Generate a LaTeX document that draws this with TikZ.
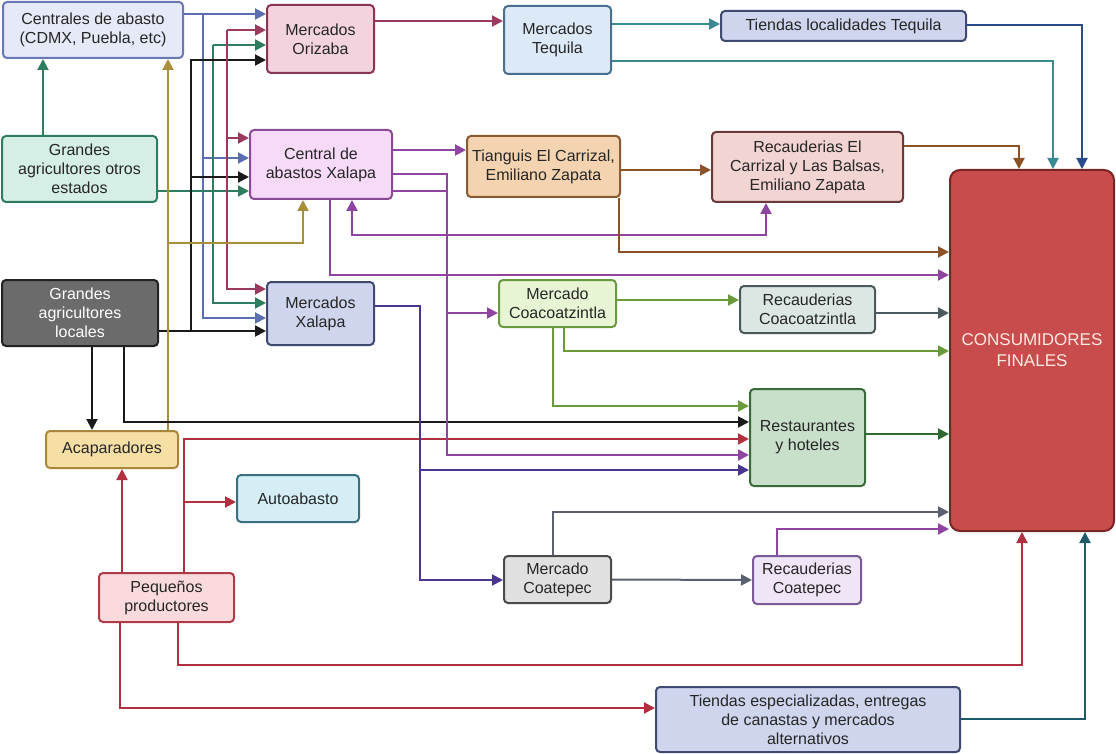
\documentclass[tikz,border=0pt]{standalone}
\usepackage{fontspec}
\setmainfont{Liberation Sans}
\usetikzlibrary{arrows.meta}

\definecolor{cblue}{HTML}{5B6FB0}
\definecolor{cgreen}{HTML}{2E7D5E}
\definecolor{cblack}{HTML}{1A1A1A}
\definecolor{cmaroon}{HTML}{9A3A5E}
\definecolor{cgold}{HTML}{A8903A}
\definecolor{cred}{HTML}{B03040}
\definecolor{cpurple}{HTML}{8E44A0}
\definecolor{cindigo}{HTML}{4A3590}
\definecolor{cbrown}{HTML}{8A5226}
\definecolor{cteal}{HTML}{3A8A95}
\definecolor{cnavy}{HTML}{2A4A8A}
\definecolor{colive}{HTML}{6A9A3A}
\definecolor{cslate}{HTML}{4A5A60}
\definecolor{cdgreen}{HTML}{2E6A30}
\definecolor{cgray}{HTML}{5A6070}
\definecolor{cdteal}{HTML}{1E5A6A}
% rellenos y bordes
\definecolor{fcen}{HTML}{E6EAF8}\definecolor{dcen}{HTML}{6A78B8}
\definecolor{fgao}{HTML}{D5EFE6}\definecolor{dgao}{HTML}{2E7D5E}
\definecolor{fgal}{HTML}{6B6B6B}\definecolor{dgal}{HTML}{222222}
\definecolor{faca}{HTML}{F6DFA4}\definecolor{daca}{HTML}{A8873A}
\definecolor{fpeq}{HTML}{FADADD}\definecolor{dpeq}{HTML}{B03A48}
\definecolor{faut}{HTML}{D5EEF6}\definecolor{daut}{HTML}{3B6E7E}
\definecolor{forz}{HTML}{F3D4DE}\definecolor{dorz}{HTML}{8A3555}
\definecolor{fcax}{HTML}{F6DAF8}\definecolor{dcax}{HTML}{8A4A95}
\definecolor{fmxa}{HTML}{CFD5EC}\definecolor{dmxa}{HTML}{3E4A70}
\definecolor{fteq}{HTML}{DCEAF8}\definecolor{dteq}{HTML}{4A6F8F}
\definecolor{ftia}{HTML}{F4D3B0}\definecolor{dtia}{HTML}{8A5A30}
\definecolor{frec}{HTML}{F2D4D2}\definecolor{drec}{HTML}{6A3A3A}
\definecolor{fmco}{HTML}{E8F5D4}\definecolor{dmco}{HTML}{6A9A40}
\definecolor{frco}{HTML}{DCE7E4}\definecolor{drco}{HTML}{4A5A5A}
\definecolor{fres}{HTML}{C8DFCA}\definecolor{dres}{HTML}{3A6A3A}
\definecolor{fcon}{HTML}{C94C4C}\definecolor{dcon}{HTML}{7A2525}\definecolor{tcon}{HTML}{FBEAE2}
\definecolor{fmct}{HTML}{E0E0E0}\definecolor{dmct}{HTML}{4A4A4A}
\definecolor{frct}{HTML}{F0E4F7}\definecolor{drct}{HTML}{7A5A9A}

\tikzset{
  box/.style={draw, rounded corners=4pt, line width=2pt, align=center,
    font=\fontsize{16}{19}\selectfont, text=black!85, inner sep=2pt},
  arr/.style={line width=2pt, -{Triangle[length=11pt,width=11pt]}},
  arrb/.style={line width=2pt, {Triangle[length=11pt,width=11pt]}-{Triangle[length=11pt,width=11pt]}},
  ln/.style={line width=2pt}
}

\begin{document}
\begin{tikzpicture}[x=1pt,y=-1pt]
\useasboundingbox (0,0) rectangle (1116,754);

% origen
\node[box,fill=fcen,draw=dcen,minimum width=180pt,minimum height=56pt] (cen) at (93,30) {Centrales de abasto\\(CDMX, Puebla, etc)};
\node[box,fill=fgao,draw=dgao,minimum width=155pt,minimum height=66pt] (gao) at (79.5,169) {Grandes\\agricultores otros\\estados};
\node[box,fill=fgal,draw=dgal,text=white,minimum width=156pt,minimum height=66pt] (gal) at (80,313) {Grandes\\agricultores\\locales};
\node[box,fill=faca,draw=daca,minimum width=132pt,minimum height=37pt] (aca) at (112,449.5) {Acaparadores};
\node[box,fill=fpeq,draw=dpeq,minimum width=135pt,minimum height=49pt] (peq) at (166.5,597.5) {Pequeños\\productores};
\node[box,fill=faut,draw=daut,minimum width=122pt,minimum height=47pt] (aut) at (298,498.5) {Autoabasto};

% mercados
\node[box,fill=forz,draw=dorz,minimum width=107pt,minimum height=68pt] (orz) at (320.5,39) {Mercados\\Orizaba};
\node[box,fill=fcax,draw=dcax,minimum width=142pt,minimum height=69pt] (cax) at (321,164.5) {Central de\\abastos Xalapa};
\node[box,fill=fmxa,draw=dmxa,minimum width=107pt,minimum height=63pt] (mxa) at (320.5,313.5) {Mercados\\Xalapa};
\node[box,fill=fteq,draw=dteq,minimum width=107pt,minimum height=68pt] (teq) at (557.5,40) {Mercados\\Tequila};
\node[box,fill=fmxa,draw=dmxa,minimum width=245pt,minimum height=30pt] (tlt) at (843.5,26) {Tiendas localidades Tequila};
\node[box,fill=ftia,draw=dtia,minimum width=153pt,minimum height=61pt] (tia) at (543.5,166.5) {Tianguis El Carrizal,\\Emiliano Zapata};
\node[box,fill=frec,draw=drec,minimum width=191pt,minimum height=70pt] (rec) at (807.5,167) {Recauderias El\\Carrizal y Las Balsas,\\Emiliano Zapata};
\node[box,fill=fmco,draw=dmco,minimum width=117pt,minimum height=47pt] (mco) at (557.5,303.5) {Mercado\\Coacoatzintla};
\node[box,fill=frco,draw=drco,minimum width=135pt,minimum height=47pt] (rco) at (807.5,309.5) {Recauderias\\Coacoatzintla};
\node[box,fill=fres,draw=dres,minimum width=115pt,minimum height=97pt] (res) at (807.5,437.5) {Restaurantes\\y hoteles};
\node[box,fill=fmct,draw=dmct,minimum width=107pt,minimum height=47pt] (mct) at (557.5,579.5) {Mercado\\Coatepec};
\node[box,fill=frct,draw=drct,minimum width=108pt,minimum height=48pt] (rct) at (807,580) {Recauderias\\Coatepec};
\node[box,fill=fmxa,draw=dmxa,minimum width=304pt,minimum height=65pt] (tes) at (808,719.5) {Tiendas especializadas, entregas\\de canastas y mercados\\alternativos};
\node[box,fill=fcon,draw=dcon,text=tcon,minimum width=164pt,minimum height=361pt,rounded corners=10pt,font=\fontsize{17}{21}\selectfont] (con) at (1032,350.5) {CONSUMIDORES\\FINALES};

% troncos de la izquierda
\coordinate (jb) at (203,14);
\coordinate (jg) at (213,45);
\coordinate (jk) at (191,331);
\coordinate (jm) at (227,30);
\draw[cblue,arr] (cen.east |- jb) -- (orz.west |- jb);
\draw[cblue,arr] (jb) |- (mxa.west |- 0,318);
\draw[cblue,arr] (jb |- 0,158) -- (cax.west |- 0,158);
\draw[cgreen,arr] (gao.north -| 43,0) -- (cen.south -| 43,0);
\draw[cgreen,arr] (gao.east |- 0,191) -- (cax.west |- 0,191);
\draw[cgreen,arr] (jg) -- (orz.west |- jg);
\draw[cgreen,arr] (jg) |- (mxa.west |- 0,303);
\draw[cblack,arr] (gal.east |- jk) -- (mxa.west |- jk);
\draw[cblack,arr] (jk) |- (orz.west |- 0,60);
\draw[cblack,arr] (jk |- 0,177) -- (cax.west |- 0,177);
\draw[cmaroon,arr] (jm) -- (orz.west |- jm);
\draw[cmaroon,arr] (jm) |- (mxa.west |- 0,289);
\draw[cmaroon,arr] (jm |- 0,138) -- (cax.west |- 0,138);
\draw[cgold,arr] (aca.north -| 168,0) -- (cen.south -| 168,0);
\draw[cgold,arr] (168,243) -| (cax.south -| 303,0);
\draw[cblack,arr] (gal.south -| 92,0) -- (aca.north -| 92,0);
\draw[cblack,arr] (gal.south -| 124,0) |- (res.west |- 0,422);

% pequenos productores
\draw[cred,arr] (peq.north -| 122,0) -- (aca.south -| 122,0);
\draw[cred,arr] (peq.north -| 184,0) |- (res.west |- 0,439);
\draw[cred,arr] (184,502) -- (aut.west |- 0,502);
\draw[cred,arr] (peq.south -| 178,0) |- (1022,665) -- (con.south -| 1022,0);
\draw[cred,arr] (peq.south -| 120,0) |- (tes.west |- 0,708);
\draw[cdteal,arr] (tes.east |- 0,719) -| (con.south -| 1085,0);

% Xalapa y Coatepec
\draw[cindigo,arr] (mxa.east |- 0,306) -| (420,580) -- (mct.west |- 0,580);
\draw[cindigo,arr] (420,470) -- (res.west |- 0,470);
\draw[cgray,arr] (mct.north -| 553,0) |- (con.west |- 0,512);
\draw[cgray,arr] (mct.east) -- (rct.west);
\draw[cpurple,arr] (rct.north -| 777,0) |- (con.west |- 0,529);

\draw[cpurple,arr] (cax.east |- 0,150) -- (tia.west |- 0,150);
\draw[cpurple,ln] (cax.east |- 0,174) -| (447,191);
\draw[cpurple,arr] (cax.east |- 0,191) -| (447,455) -- (res.west |- 0,455);
\draw[cpurple,arr] (447,313) -- (mco.west |- 0,313);
\draw[cpurple,arr] (cax.south -| 330,0) |- (con.west |- 0,275);
\draw[cpurple,arrb] (cax.south -| 352,0) |- (766,235) -- (rec.south -| 766,0);

% El Carrizal
\draw[cbrown,arr] (tia.east |- 0,170) -- (rec.west |- 0,170);
\draw[cbrown,arr] (tia.south -| 619,0) |- (con.west |- 0,252);
\draw[cbrown,arr] (rec.east |- 0,146) -| (con.north -| 1019,0);

% Orizaba y Tequila
\draw[cmaroon,arr] (orz.east |- 0,21) -- (teq.west |- 0,21);
\draw[cteal,arr] (teq.east |- 0,24) -- (tlt.west |- 0,24);
\draw[cteal,arr] (teq.east |- 0,61) -| (con.north -| 1053,0);
\draw[cnavy,arr] (tlt.east |- 0,25) -| (con.north -| 1082,0);

% Coacoatzintla
\draw[colive,arr] (mco.east |- 0,300) -- (rco.west |- 0,300);
\draw[cslate,arr] (rco.east |- 0,313) -- (con.west |- 0,313);
\draw[colive,arr] (mco.south -| 564,0) |- (con.west |- 0,351);
\draw[colive,arr] (mco.south -| 553,0) |- (res.west |- 0,406);
\draw[cdgreen,arr] (res.east |- 0,434) -- (con.west |- 0,434);
\end{tikzpicture}
\end{document}
